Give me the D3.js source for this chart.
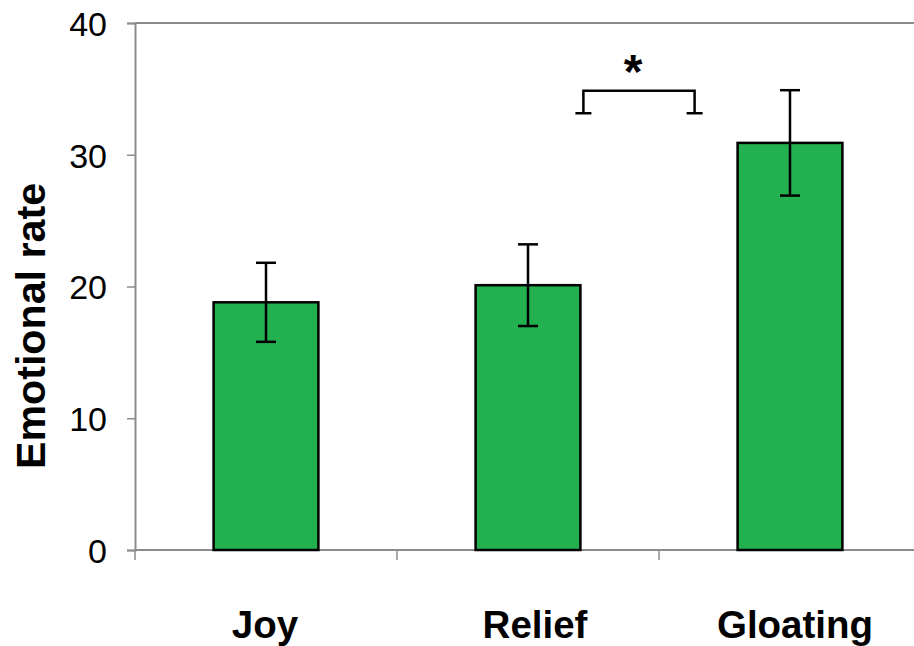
<!DOCTYPE html>
<html>
<head>
<meta charset="utf-8">
<script src="https://cdn.jsdelivr.net/npm/d3@7"></script>
<style>
  html, body { margin: 0; padding: 0; background: #fff; }
  svg { display: block; }
</style>
</head>
<body>
<svg id="chart" width="914" height="646"></svg>
<script>
// Mean emotional rating per condition, with error (±) values
const categories = ["Joy", "Relief", "Gloating"];
const means = [18.8, 20.1, 30.9];
const errors = [3.0, 3.1, 4.0];
const yTicks = [0, 10, 20, 30, 40];
// Significance marker between Relief and Gloating
const sigPair = ["Relief", "Gloating"];
const sigLevel = 34.85;
const sigFoot = 33.15;
const sigLabel = "*";

(function draw() {
  const svg = d3.select("#chart");
  const plotLeft = 135, plotTop = 23, plotBottom = 550, bandWidth = 262;

  const x = d3.scaleBand()
    .domain(categories)
    .range([plotLeft, plotLeft + bandWidth * categories.length])
    .paddingInner(0.6).paddingOuter(0.3);

  const y = d3.scaleLinear().domain([0, 40]).range([plotBottom, plotTop]);

  const axisColor = "#8c8c8c";
  const font = "Liberation Sans, Arial, sans-serif";

  // top frame line
  svg.append("line")
    .attr("x1", plotLeft).attr("x2", 914)
    .attr("y1", y(40)).attr("y2", y(40))
    .attr("stroke", axisColor).attr("stroke-width", 2);

  // y axis
  const yAxis = svg.append("g")
    .attr("transform", `translate(${plotLeft},0)`)
    .call(d3.axisLeft(y).tickValues(yTicks).tickSize(8).tickPadding(20));
  yAxis.select(".domain").attr("stroke", axisColor).attr("stroke-width", 2);
  yAxis.selectAll(".tick line").attr("stroke", axisColor).attr("stroke-width", 1.5);
  yAxis.selectAll(".tick text")
    .attr("font-family", font)
    .attr("font-size", 34).attr("fill", "#000").attr("dy", "0.36em");

  // x axis baseline with boundary ticks between categories
  const boundaries = d3.range(categories.length + 1).map(i => plotLeft + i * bandWidth);
  svg.append("line")
    .attr("x1", plotLeft).attr("x2", 914)
    .attr("y1", plotBottom).attr("y2", plotBottom)
    .attr("stroke", axisColor).attr("stroke-width", 2);
  svg.selectAll(".xtick").data(boundaries).enter().append("line")
    .attr("x1", d => d).attr("x2", d => d)
    .attr("y1", plotBottom).attr("y2", plotBottom + 10)
    .attr("stroke", axisColor).attr("stroke-width", 1.5);

  // category labels
  const labelShift = { Joy: -1, Relief: 7, Gloating: 5 };
  svg.selectAll(".xlabel").data(categories).enter().append("text")
    .attr("x", d => x(d) + x.bandwidth() / 2 + labelShift[d])
    .attr("y", 638)
    .attr("text-anchor", "middle")
    .attr("font-family", font)
    .attr("font-weight", "bold").attr("font-size", 38.5)
    .text(d => d);

  // y axis title
  svg.append("text")
    .attr("transform", "translate(45,326) rotate(-90) scale(1.03,1)")
    .attr("text-anchor", "middle")
    .attr("font-family", font)
    .attr("font-weight", "bold").attr("font-size", 40)
    .text("Emotional rate");

  // bars
  svg.selectAll(".bar").data(categories).enter().append("rect")
    .attr("x", d => x(d))
    .attr("y", (d, i) => y(means[i]))
    .attr("width", x.bandwidth())
    .attr("height", (d, i) => y(0) - y(means[i]))
    .attr("fill", "#23b04e")
    .attr("stroke", "#000").attr("stroke-width", 2.5);

  // error bars
  const cap = 10;
  const cx = d => x(d) + x.bandwidth() / 2;
  const eb = svg.selectAll(".err").data(categories).enter().append("g");
  eb.append("line")
    .attr("x1", cx).attr("x2", cx)
    .attr("y1", (d, i) => y(means[i] + errors[i])).attr("y2", (d, i) => y(means[i] - errors[i]))
    .attr("stroke", "#000").attr("stroke-width", 2.5);
  eb.append("line")
    .attr("x1", d => cx(d) - cap).attr("x2", d => cx(d) + cap)
    .attr("y1", (d, i) => y(means[i] + errors[i])).attr("y2", (d, i) => y(means[i] + errors[i]))
    .attr("stroke", "#000").attr("stroke-width", 2.5);
  eb.append("line")
    .attr("x1", d => cx(d) - cap).attr("x2", d => cx(d) + cap)
    .attr("y1", (d, i) => y(means[i] - errors[i])).attr("y2", (d, i) => y(means[i] - errors[i]))
    .attr("stroke", "#000").attr("stroke-width", 2.5);

  // significance bracket
  const bx1 = x(sigPair[0]) + x.bandwidth() + 3;
  const bx2 = x(sigPair[1]) - 43;
  const path = d3.path();
  path.moveTo(bx1, y(sigFoot));
  path.lineTo(bx1, y(sigLevel));
  path.lineTo(bx2, y(sigLevel));
  path.lineTo(bx2, y(sigFoot));
  svg.append("path").attr("d", path.toString())
    .attr("fill", "none").attr("stroke", "#000").attr("stroke-width", 2.5);
  [bx1, bx2].forEach(bx => {
    svg.append("line")
      .attr("x1", bx - 8).attr("x2", bx + 8)
      .attr("y1", y(sigFoot)).attr("y2", y(sigFoot))
      .attr("stroke", "#000").attr("stroke-width", 2.5);
  });
  svg.append("text")
    .attr("x", (bx1 + bx2) / 2 - 6).attr("y", 88)
    .attr("text-anchor", "middle")
    .attr("font-family", font)
    .attr("font-weight", "bold").attr("font-size", 48)
    .text(sigLabel);
})();
</script>
</body>
</html>
